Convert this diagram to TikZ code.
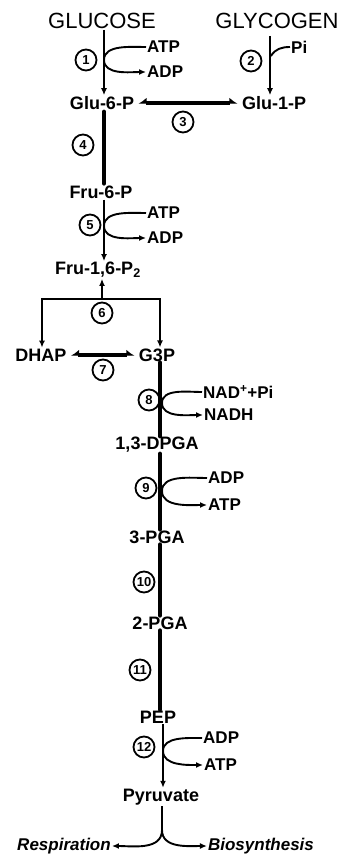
\documentclass[tikz,border=0pt]{standalone}
\usepackage{fontspec}
\setmainfont{Liberation Sans}
\usetikzlibrary{arrows.meta}
\begin{document}
\begin{tikzpicture}[x=1pt,y=-1pt,
  lbl/.style={font=\fontsize{18}{18}\selectfont\bfseries, inner sep=1pt},
  big/.style={font=\fontsize{22}{22}\selectfont, inner sep=1pt},
  side/.style={font=\fontsize{17}{17}\selectfont\bfseries, inner sep=1pt, anchor=west},
  fate/.style={font=\fontsize{17}{17}\selectfont\bfseries\itshape, inner sep=1pt},
  num/.style={circle, draw, line width=1.8pt, minimum size=21pt, inner sep=0pt, font=\fontsize{13}{13}\selectfont\bfseries},
  thinarr/.style={line width=1.9pt, -{Latex[length=7pt,width=6pt]}},
  thinln/.style={line width=1.9pt},
  thick rev/.style={line width=4.5pt, {Latex[harpoon,swap,length=7pt,width=11pt]}-{Latex[harpoon,length=7pt,width=11pt]}, shorten <=3pt, shorten >=3pt},
  thickln/.style={line width=4.5pt, line cap=round},
]
\useasboundingbox (0,0) rectangle (348,859);

% metabolites
\node[big] (glucose) at (102,21) {GLUCOSE};
\node[big] (glycogen) at (277,21) {GLYCOGEN};
\node[lbl] (glu6p) at (102,103) {Glu-6-P};
\node[lbl] (glu1p) at (274,103) {Glu-1-P};
\node[lbl] (fru6p) at (101,192) {Fru-6-P};
\node[lbl] (fru16) at (98,270) {Fru-1,6-P\textsubscript{2}};
\node[lbl] (dhap) at (41,355) {DHAP};
\node[lbl] (g3p) at (157,355) {G3P};
\node[lbl] (dpga) at (157,445) {1,3-DPGA};
\node[lbl] (pga3) at (157,537) {3-PGA};
\node[lbl] (pga2) at (160,623) {2-PGA};
\node[lbl] (pep) at (158,717) {PEP};
\node[lbl] (pyr) at (161,797) {Pyruvate};
\node[fate] (resp) at (64,846) {Respiration};
\node[fate] (bios) at (261,846) {Biosynthesis};

% side substrates
\node[side] (atp1) at (146,47) {ATP};
\node[side] (adp1) at (146,72) {ADP};
\node[side] (pi2) at (290,47) {Pi};
\node[side] (atp5) at (146,213) {ATP};
\node[side] (adp5) at (146,238) {ADP};
\node[side] (nad8) at (202,392) {NAD\textsuperscript{+}+Pi};
\node[side] (nadh8) at (203,415) {NADH};
\node[side] (adp9) at (207,478) {ADP};
\node[side] (atp9) at (207,505) {ATP};
\node[side] (adp12) at (202,738) {ADP};
\node[side] (atp12) at (203,765) {ATP};

% enzyme numbers
\node[num] (n1) at (86,60) {1};
\node[num] (n2) at (251,61) {2};
\node[num] (n3) at (183,122) {3};
\node[num] (n4) at (83,145) {4};
\node[num] (n5) at (90,225) {5};
\node[num] (n6) at (102,313) {6};
\node[num] (n7) at (103,370) {7};
\node[num] (n8) at (149,400) {8};
\node[num] (n9) at (146,488) {9};
\node[num] (n10) at (144,582) {10};
\node[num] (n11) at (140,670) {11};
\node[num] (n12) at (144,747) {12};

% touch points
\coordinate (t1) at (104,60);
\coordinate (t2) at (271,56);
\coordinate (t5) at (104,226);
\coordinate (t8) at (162,403);
\coordinate (t9) at (162,491);
\coordinate (t12) at (163,751);
\coordinate (g2top) at (270,36);
\coordinate (split) at (162,830);
\coordinate (brL) at (42,299);
\coordinate (brR) at (160,299);
\coordinate (brM) at (102,299);

% reaction 1
\draw[thinarr] (glucose.south -| t1) -- (glu6p.north -| t1);
\draw[thinln] (atp1.west) to[out=180,in=90,looseness=0.9] (t1);
\draw[thinarr] (t1) to[out=-90,in=180,looseness=0.9] (adp1.west);
% reaction 2
\draw[thinarr] (g2top) -- (g2top |- glu1p.north);
\draw[thinln] (t2) to[out=60,in=180] (pi2.west);
% reaction 3
\draw[thick rev] (glu6p.east) -- (glu1p.west);
% reaction 4
\draw[thickln] ([yshift=-1pt]glu6p.south -| t1) -- ([yshift=1pt]fru6p.north -| t1);
% reaction 5
\draw[thinarr] (fru6p.south -| t5) -- (fru16.north -| t5);
\draw[thinln] (atp5.west) to[out=180,in=90,looseness=0.9] (t5);
\draw[thinarr] (t5) to[out=-90,in=180,looseness=0.9] (adp5.west);
% reaction 6
\draw[thinarr] (brM) -- (fru16.south -| brM);
\draw[thinln, line cap=rect] (brL) -- (brR);
\draw[thinarr] (brL) -- (brL |- dhap.north);
\draw[thinarr] (brR) -- (brR |- g3p.north);
% reaction 7
\draw[thick rev] (dhap.east) -- (g3p.west);
% reaction 8
\draw[thickln] (g3p.south -| brR) -- (dpga.north -| brR);
\draw[thinln] (nad8.west) to[out=180,in=90,looseness=0.9] (t8);
\draw[thinarr] (t8) to[out=-90,in=180,looseness=0.9] (nadh8.west);
% reaction 9
\draw[thickln] (dpga.south -| brR) -- (pga3.north -| brR);
\draw[thinln] (adp9.west) to[out=180,in=90,looseness=0.9] (t9);
\draw[thinarr] (t9) to[out=-90,in=180,looseness=0.9] (atp9.west);
% reaction 10
\draw[thickln] (pga3.south -| brR) -- (pga2.north -| brR);
% reaction 11
\draw[thickln] (pga2.south -| brR) -- (pep.north -| brR);
% reaction 12
\draw[thinarr] (pep.south -| t12) -- (pyr.north -| t12);
\draw[thinln] (adp12.west) to[out=180,in=90,looseness=0.9] (t12);
\draw[thinarr] (t12) to[out=-90,in=180,looseness=0.9] (atp12.west);
% pyruvate fates
\draw[thinln] (pyr.south -| split) -- (split);
\draw[thinarr] (split) to[out=-90,in=0] (resp.east);
\draw[thinarr] (split) to[out=-90,in=180] (bios.west);
\end{tikzpicture}
\end{document}
